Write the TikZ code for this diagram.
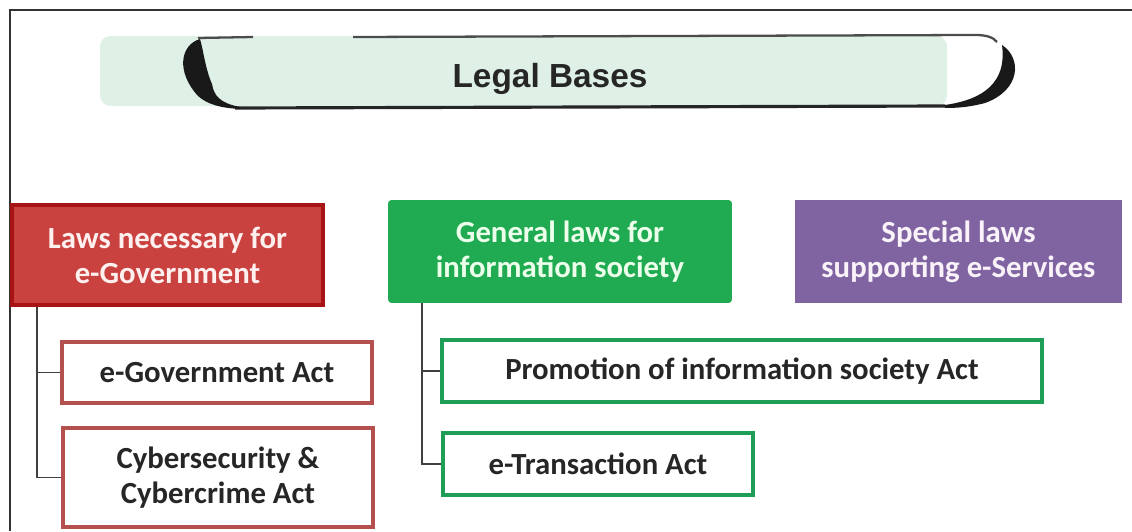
\documentclass[tikz,border=0pt]{standalone}
\usepackage{fontspec}
\setmainfont{Carlito}
\newfontfamily\titlefont{Liberation Sans}
\usetikzlibrary{calc}

\definecolor{titlegreen}{HTML}{DFF0E7}
\definecolor{lawred}{HTML}{C9423F}
\definecolor{lawredline}{HTML}{A81414}
\definecolor{actred}{HTML}{B4504D}
\definecolor{lawgreen}{HTML}{20AA52}
\definecolor{actgreen}{HTML}{1F9E57}
\definecolor{lawpurple}{HTML}{8064A2}

\begin{document}
\begin{tikzpicture}[x=0.02cm, y=-0.02cm,
  head/.style={inner sep=0pt, align=center, font=\bfseries\fontsize{17.5}{20}\selectfont},
  act/.style={draw, fill=white, line width=2.3pt, inner sep=0pt, align=center, text=black!85, font=\bfseries\fontsize{17.5}{20}\selectfont},
  branch/.style={black!75, line width=1pt}]
\useasboundingbox (0,0) rectangle (1132,531);
\draw[black!80, line width=1.7pt] (10,531) -- (10,10) -- (1132,10);

% title banner
\fill[titlegreen, rounded corners=6pt] (100,36) rectangle (947,106);
\draw[black!70, line width=1.3pt] (198,38) -- (253,37);
\draw[black!70, line width=1.3pt] (353,37) -- (975,35) .. controls (986,35) and (993,37) .. (997,42);
\draw[black!85, line width=1.8pt] (235,108) -- (945,106);
\fill[black!90] (200,39) .. controls (180,45) and (176,72) .. (198,96) .. controls (208,105) and (222,108) .. (240,109)
  -- (240,107) .. controls (220,103) and (214,96) .. (212,84) .. controls (205,68) and (203,48) .. (200,39) -- cycle;
\fill[black!90] (1002,45) .. controls (1022,58) and (1021,90) .. (985,103) .. controls (970,107) and (958,108) .. (945,108)
  -- (945,105) .. controls (972,101) and (1008,90) .. (1002,45) -- cycle;
\node[text=black!85, font=\titlefont\bfseries\fontsize{19}{20}\selectfont] (title) at (550,79) {Legal Bases};

% three kinds of laws
\node[head, fill=lawred, draw=lawredline, line width=2.3pt, text=red!6, minimum width=6.22cm, minimum height=2cm] (lawsnec) at (167.5,255) {Laws necessary for\\e-Government};
\node[head, fill=lawgreen, rounded corners=2pt, text=green!8, minimum width=6.88cm, minimum height=2.06cm] (genlaws) at (560,251.5) {General laws for\\information society};
\node[head, fill=lawpurple, text=violet!5, minimum width=6.54cm, minimum height=2.06cm] (speclaws) at (958.5,251.5) {Special laws\\supporting e-Services};

% acts
\node[act, draw=actred, minimum width=6.2cm, minimum height=1.22cm] (egovact) at (217,372.5) {e-Government Act};
\node[act, draw=actred, minimum width=6.2cm, minimum height=1.98cm] (cyberact) at (218,477.5) {Cybersecurity \&\\Cybercrime Act};
\node[act, draw=actgreen, minimum width=12cm, minimum height=1.24cm] (promoact) at (742,371) {Promotion of information society Act};
\node[act, draw=actgreen, minimum width=6.2cm, minimum height=1.24cm] (etransact) at (598,464) {e-Transaction Act};

\draw[branch] ($(lawsnec.south west)+(27,0)$) |- (egovact.west);
\draw[branch] ($(lawsnec.south west)+(27,0)$) |- (cyberact.west);
\draw[branch] ($(genlaws.south west)+(34,0)$) |- (promoact.west);
\draw[branch] ($(genlaws.south west)+(34,0)$) |- (etransact.west);
\end{tikzpicture}
\end{document}
